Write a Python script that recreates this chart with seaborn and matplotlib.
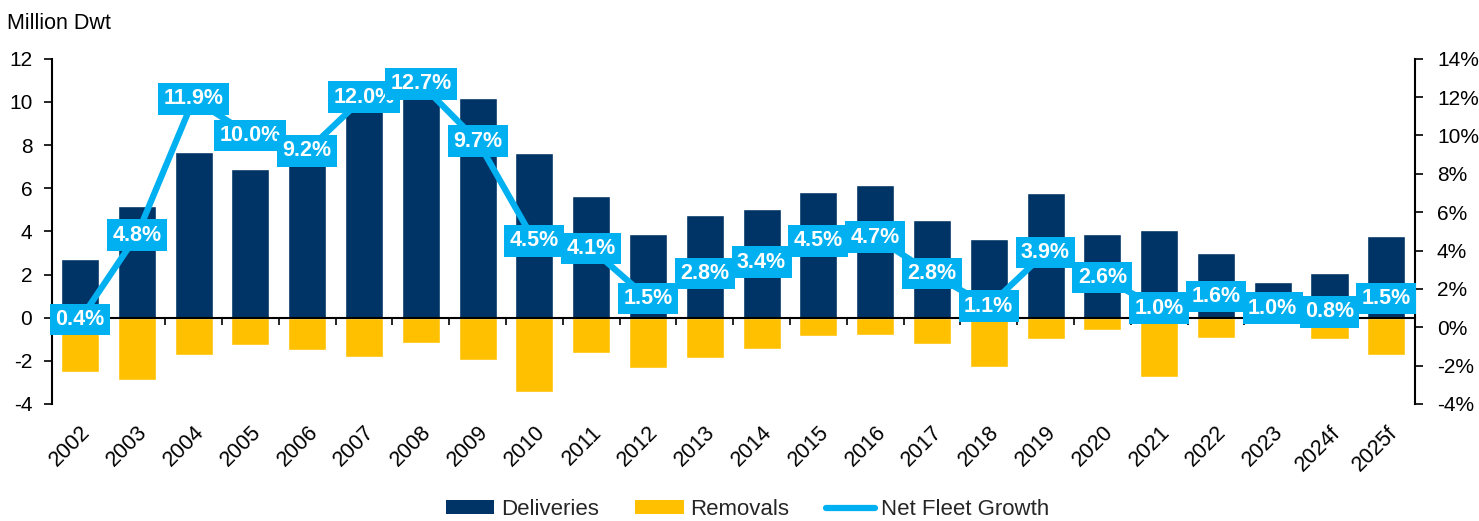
import matplotlib
matplotlib.use("Agg")
import matplotlib.pyplot as plt
from matplotlib.patches import Patch
from matplotlib.lines import Line2D
import numpy as np
import pandas as pd
import seaborn as sns

# Fleet supply data (million dwt) and net fleet growth (%)
years = ["2002", "2003", "2004", "2005", "2006", "2007", "2008", "2009",
         "2010", "2011", "2012", "2013", "2014", "2015", "2016", "2017",
         "2018", "2019", "2020", "2021", "2022", "2023", "2024f", "2025f"]
deliveries = [2.72, 5.19, 7.69, 6.89, 7.3, 9.9, 10.5, 10.18,
              7.63, 5.63, 3.86, 4.74, 5.05, 5.82, 6.16, 4.54,
              3.65, 5.78, 3.88, 4.06, 3.0, 1.67, 2.09, 3.79]
removals = [-2.53, -2.90, -1.71, -1.27, -1.50, -1.82, -1.16, -1.95,
            -3.46, -1.62, -2.33, -1.87, -1.44, -0.85, -0.80, -1.20,
            -2.27, -0.97, -0.56, -2.73, -0.93, -0.15, -1.00, -1.71]
net_growth = [0.4, 4.8, 11.9, 10.0, 9.2, 12.0, 12.7, 9.7,
              4.5, 4.1, 1.5, 2.8, 3.4, 4.5, 4.7, 2.8,
              1.1, 3.9, 2.6, 1.0, 1.6, 1.0, 0.8, 1.5]
left_ticks = [-4, -2, 0, 2, 4, 6, 8, 10, 12]
right_ticks = [-4, -2, 0, 2, 4, 6, 8, 10, 12, 14]

NAVY = "#003366"
GOLD = "#FFC000"
CYAN = "#00B0F0"

sns.set_theme(style="white")
plt.rcParams["font.family"] = ["Liberation Sans", "DejaVu Sans"]

df = pd.DataFrame({"year": years, "deliveries": deliveries,
                   "removals": removals, "growth": net_growth})
pos = np.arange(len(years))

fig = plt.figure(figsize=(14.79, 5.21), dpi=100)
ax = fig.add_axes([0.03496, 0.2246, 0.92154, 0.6627])

sns.barplot(data=df, x="year", y="deliveries", color=NAVY, width=0.67,
            saturation=1, ax=ax, zorder=2)
sns.barplot(data=df, x="year", y="removals", color=GOLD, width=0.67,
            saturation=1, ax=ax, zorder=2)

ax.set_xlim(-0.5, len(years) - 0.5)
ax.set_ylim(-4, 12)
ax.set_yticks(left_ticks)
ax.set_yticklabels([str(t) for t in left_ticks])
ax.set_xlabel("")
ax.set_ylabel("")

# zero line with category-boundary tick marks
ax.spines["bottom"].set_position(("data", 0))
ax.spines["bottom"].set_color("black")
ax.spines["bottom"].set_linewidth(1.5)
ax.set_xticks(np.arange(len(years) + 1) - 0.5)
ax.set_xticklabels([])
ax.tick_params(axis="x", direction="out", length=5, width=1.2, color="black", bottom=True)
ax.spines["left"].set_color("black")
ax.spines["left"].set_linewidth(1.5)
ax.tick_params(axis="y", direction="out", length=6, width=1.2, color="black",
               left=True, labelsize=15, pad=8, labelcolor="black")
for s in ["top", "right"]:
    ax.spines[s].set_visible(False)

# year labels along the bottom of the plot area
sec = ax.secondary_xaxis("bottom")
sec.set_xticks(pos)
sec.set_xticklabels(years, rotation=45, ha="right", rotation_mode="anchor",
                    fontsize=15.5, color="black")
sec.tick_params(axis="x", length=0, pad=13)
sec.spines["bottom"].set_visible(False)

# net fleet growth on the right axis
ax2 = ax.twinx()
sns.lineplot(x=pos, y=df["growth"], color=CYAN, linewidth=4.5, ax=ax2,
             zorder=3)
ax2.set_ylim(-4, 14)
ax2.set_yticks(right_ticks)
ax2.set_yticklabels([f"{t}%" for t in right_ticks])
ax2.set_ylabel("")
for s in ["top", "left", "bottom"]:
    ax2.spines[s].set_visible(False)
ax2.spines["right"].set_color("black")
ax2.spines["right"].set_linewidth(1.5)
ax2.tick_params(axis="y", direction="out", length=6, width=1.2, color="black",
                right=True, labelsize=15, pad=10, labelcolor="black")
ax2.grid(False)
ax.grid(False)

for x, v in zip(pos, net_growth):
    ax2.text(x, v, f"{v:.1f}%", ha="center", va="center", color="white",
             fontsize=15.5, fontweight="bold", zorder=5, clip_on=False,
             bbox=dict(boxstyle="square,pad=0.25", facecolor=CYAN,
                       edgecolor="none"))

fig.text(7 / 1479, 1 - 29 / 521, "Million Dwt", fontsize=15.5,
         ha="left", va="baseline", color="black")

handles = [Patch(facecolor=NAVY, edgecolor="none", label="Deliveries"),
           Patch(facecolor=GOLD, edgecolor="none", label="Removals"),
           Line2D([0], [0], color=CYAN, linewidth=4.5, label="Net Fleet Growth")]
fig.legend(handles=handles, loc="lower center", bbox_to_anchor=(0.5054, 0.002),
           ncol=3, frameon=False, fontsize=16, handlelength=2.2,
           handleheight=0.55, handletextpad=0.28, columnspacing=1.65,
           borderpad=0, borderaxespad=0)

fig.savefig("out.png", dpi=100)
